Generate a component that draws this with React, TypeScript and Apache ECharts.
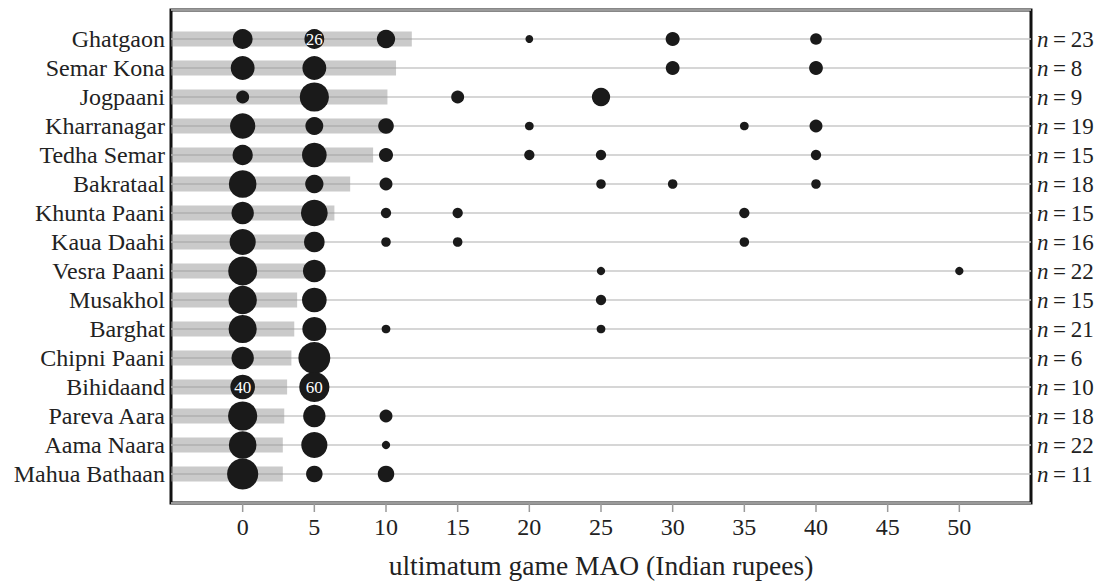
import React, { useEffect, useRef } from "react";
import * as echarts from "echarts";

const villages = [
  "Ghatgaon", "Semar Kona", "Jogpaani", "Kharranagar", "Tedha Semar", "Bakrataal",
  "Khunta Paani", "Kaua Daahi", "Vesra Paani", "Musakhol", "Barghat", "Chipni Paani",
  "Bihidaand", "Pareva Aara", "Aama Naara", "Mahua Bathaan",
];
const sampleSizes = [23, 8, 9, 19, 15, 18, 15, 16, 22, 15, 21, 6, 10, 18, 22, 11];
const meanOffers = [11.8, 10.7, 10.1, 10.3, 9.1, 7.5, 6.4, 5.3, 5.1, 3.8, 3.6, 3.4, 3.1, 2.9, 2.8, 2.8];
// [MAO in rupees, percent of respondents]
const maoDistribution: number[][][] = [
  [[0, 26], [5, 26], [10, 22], [20, 4], [30, 13], [40, 9]],
  [[0, 37.5], [5, 37.5], [30, 12.5], [40, 12.5]],
  [[0, 11], [5, 56], [15, 11], [25, 22]],
  [[0, 42], [5, 21], [10, 16], [20, 5], [35, 5], [40, 11]],
  [[0, 27], [5, 40], [10, 13], [20, 7], [25, 7], [40, 7]],
  [[0, 50], [5, 22], [10, 11], [25, 6], [30, 6], [40, 6]],
  [[0, 33], [5, 47], [10, 7], [15, 7], [35, 7]],
  [[0, 45], [5, 28], [10, 6], [15, 6], [35, 6]],
  [[0, 55], [5, 34], [25, 4.5], [50, 4.5]],
  [[0, 53], [5, 40], [25, 7]],
  [[0, 52], [5, 38], [10, 5], [25, 5]],
  [[0, 33], [5, 67]],
  [[0, 40], [5, 60]],
  [[0, 56], [5, 33], [10, 11]],
  [[0, 50], [5, 45], [10, 4.5]],
  [[0, 64], [5, 18], [10, 18]],
];
const labelledDots = [["Ghatgaon", 5], ["Bihidaand", 0], ["Bihidaand", 5]];
const xTicks = [0, 5, 10, 15, 20, 25, 30, 35, 40, 45, 50];

const FONT = "Liberation Serif, serif";

export default function App() {
  const ref = useRef<HTMLDivElement>(null);
  useEffect(() => {
    if (!ref.current) return;
    const chart = echarts.init(ref.current, null, { renderer: "svg" });

    const dots: any[] = [];
    maoDistribution.forEach((row, i) => {
      row.forEach(([mao, pct]) => {
        const show = labelledDots.some(([v, m]) => v === villages[i] && m === mao);
        dots.push({ value: [mao, i, pct], label: { show } });
      });
    });

    const yLabel = (v: number) => (Number.isInteger(v) && villages[v] !== undefined ? villages[v] : "");
    const nLabel = (v: number) =>
      Number.isInteger(v) && sampleSizes[v] !== undefined ? `{i|n}{r|\u2009=\u2009${sampleSizes[v]}}` : "";

    chart.setOption({
      animation: false,
      backgroundColor: "#fff",
      grid: {
        left: 171, right: 68, top: 10, bottom: 81,
        show: true, borderColor: "#111", borderWidth: 3, backgroundColor: "transparent",
      },
      xAxis: [
        {
          type: "value", min: -5, max: 55, interval: 5,
          axisLine: { show: false, onZero: false },
          splitLine: { show: false },
          axisTick: { show: false },
          axisLabel: { customValues: xTicks, fontSize: 24, fontFamily: FONT, color: "#222", margin: 12 },
          name: "ultimatum game MAO (Indian rupees)",
          nameLocation: "middle", nameGap: 48,
          nameTextStyle: { fontSize: 27.5, fontFamily: FONT, color: "#222" },
        },
      ],
      yAxis: [
        {
          type: "value", min: -1, max: 16, interval: 1, inverse: true,
          axisLine: { show: false }, axisTick: { show: false },
          splitLine: { show: true, lineStyle: { color: "#c9c9c9", width: 1.5 } },
          axisLabel: { formatter: yLabel, fontSize: 24, fontFamily: FONT, color: "#222", margin: 6 },
        },
        {
          type: "value", min: -1, max: 16, interval: 1, inverse: true, position: "right",
          axisLine: { show: false }, axisTick: { show: false }, splitLine: { show: false },
          axisLabel: {
            formatter: nLabel, margin: 6, color: "#222",
            rich: {
              i: { fontStyle: "italic", fontSize: 23, fontFamily: FONT, color: "#222" },
              r: { fontSize: 23, fontFamily: FONT, color: "#222" },
            },
          },
        },
      ],
      series: [
        {
          type: "custom",
          z: 1,
          data: meanOffers.map((m, i) => [m, i]),
          encode: { x: 0, y: 1 },
          renderItem: (params: any, api: any) => {
            const y = api.value(1);
            const p0 = api.coord([-5, y]);
            const p1 = api.coord([api.value(0), y]);
            return {
              type: "rect",
              shape: { x: p0[0], y: p0[1] - 7.5, width: p1[0] - p0[0], height: 15 },
              style: { fill: "rgba(150,150,150,0.5)" },
            };
          },
        },
        {
          type: "scatter",
          z: 3,
          data: dots,
          symbolSize: (v: number[]) => 3.9 * Math.sqrt(v[2]),
          itemStyle: { color: "#1a1a1a", opacity: 1 },
          label: {
            show: false, position: "inside", color: "#fff", fontSize: 17, fontFamily: FONT,
            formatter: (p: any) => String(Math.round(p.value[2])),
          },
        },
      ],
    });

    // axis ticks below the frame, placed through the axis scale (drawn as thin rects)
    const ticks = xTicks.map((t) => {
      const pt = chart.convertToPixel({ gridIndex: 0 }, [t, 16]) as number[];
      return {
        type: "rect",
        z: 100,
        shape: { x: pt[0] - 0.75, y: pt[1] + 1, width: 1.5, height: 8 },
        style: { fill: "#9a9a9a" },
      };
    });
    chart.setOption({ graphic: { elements: ticks } });

    return () => chart.dispose();
  }, []);
  return <div ref={ref} style={{ position: "absolute", left: 0, top: 0, width: 1099, height: 584 }} />;
}
